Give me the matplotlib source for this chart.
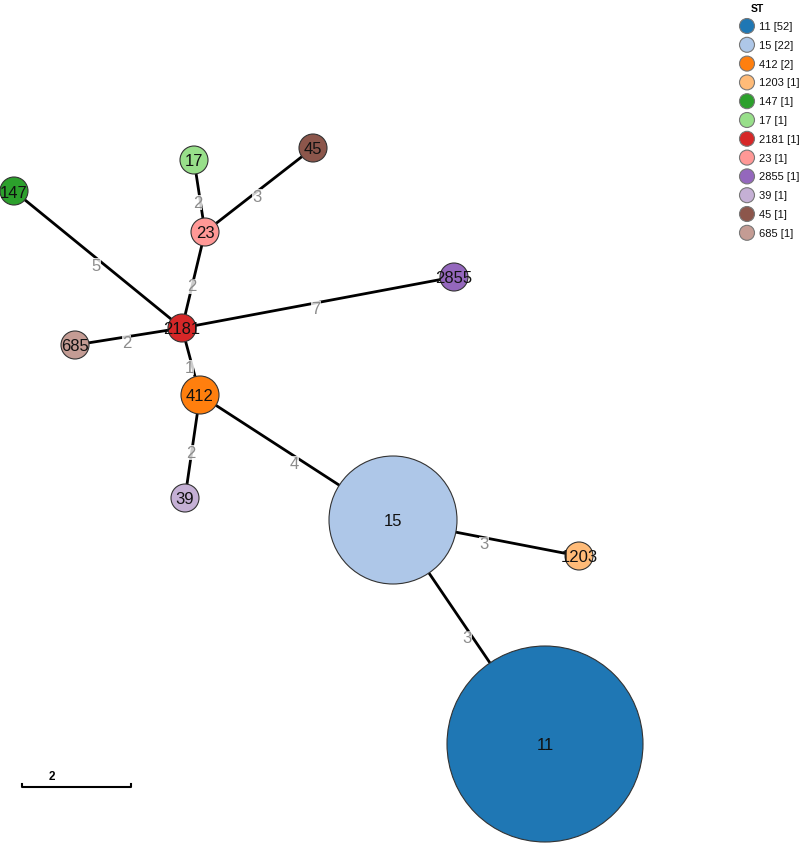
import matplotlib
matplotlib.use("Agg")
import matplotlib.pyplot as plt
from matplotlib.patches import Circle

plt.rcParams['font.family'] = ['Liberation Sans', 'DejaVu Sans']

# Data
st_names = ["11", "15", "412", "1203", "147", "17", "2181", "23", "2855", "39", "45", "685"]
st_counts = [52, 22, 2, 1, 1, 1, 1, 1, 1, 1, 1, 1]
st_colors = ["#1f77b4", "#aec7e8", "#ff7f0e", "#ffbb78", "#2ca02c", "#98df8a",
             "#d62728", "#ff9896", "#9467bd", "#c5b0d5", "#8c564b", "#c49c94"]
# layout coordinates of nodes
node_x = [545, 393, 200, 579, 14, 194, 182, 205, 454, 185, 313, 75]
node_y = [745, 521, 396, 557, 192, 161, 329, 233, 278, 499, 149, 346]
node_r = [98, 64, 19, 14, 14, 14, 14, 14, 14, 14, 14, 14]
edge_src = ["2181", "2181", "23", "23", "2181", "2181", "2181", "412", "412", "15", "15"]
edge_dst = ["147", "23", "17", "45", "2855", "685", "412", "39", "15", "1203", "11"]
edge_w = [5, 2, 2, 3, 7, 2, 1, 2, 4, 3, 3]

W, H = 800, 845
fig = plt.figure(figsize=(W / 100, H / 100), dpi=100)
ax = fig.add_axes([0, 0, 1, 1])
ax.set_xlim(0, W)
ax.set_ylim(H, 0)
ax.set_aspect("equal")
ax.axis("off")

idx = {n: i for i, n in enumerate(st_names)}

for s, d, w in zip(edge_src, edge_dst, edge_w):
    i, j = idx[s], idx[d]
    ax.plot([node_x[i], node_x[j]], [node_y[i], node_y[j]], color="black", lw=2.0, zorder=1,
            solid_capstyle="butt")
    mx, my = (node_x[i] + node_x[j]) / 2, (node_y[i] + node_y[j]) / 2
    ax.text(mx - 2, my + 6, str(w), color="#8c8c8c", fontsize=12, ha="center", va="center",
            zorder=2, bbox=dict(boxstyle="square,pad=0.0", fc="white", ec="none", alpha=0.8))

for i, n in enumerate(st_names):
    c = Circle((node_x[i], node_y[i]), node_r[i], facecolor=st_colors[i], edgecolor="#333333",
               lw=0.8, zorder=3)
    ax.add_patch(c)
    t = ax.text(node_x[i], node_y[i] + 1, n, fontsize=12, ha="center", va="center",
                color="#111111", zorder=4)
    t.set_clip_path(c)

# scale bar
ax.plot([22, 22, 131, 131], [785, 788, 788, 785], color="black", lw=1.5, zorder=5)
ax.text(52, 783, "2", fontsize=8.5, fontweight="bold", ha="center", va="bottom")

# legend (drawn manually)
ax.text(757, 9, "ST", fontsize=7.5, fontweight="bold", ha="center", va="center")
leg_y0, leg_dy = 27, 18.8
for k, (n, cnt, col) in enumerate(zip(st_names, st_counts, st_colors)):
    y = leg_y0 + k * leg_dy
    ax.add_patch(Circle((747, y), 7.5, facecolor=col, edgecolor="#777777", lw=0.8, zorder=5))
    ax.text(759, y, f"{n} [{cnt}]", fontsize=8, ha="left", va="center", color="#111111")

fig.savefig("out.png", dpi=100)
